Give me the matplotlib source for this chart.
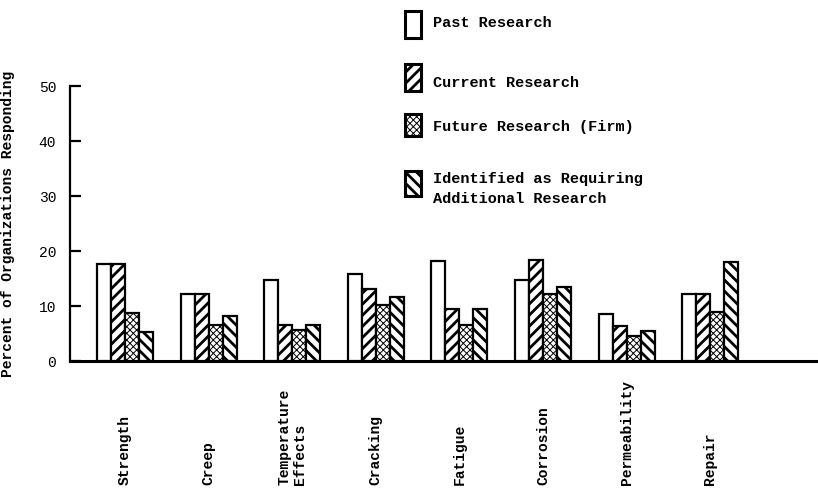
import matplotlib
matplotlib.use("Agg")
import matplotlib.pyplot as plt
import numpy as np
from matplotlib.patches import Rectangle
from matplotlib.transforms import blended_transform_factory

categories = ["Strength", "Creep", "Temperature\nEffects", "Cracking", "Fatigue",
              "Corrosion", "Permeability", "Repair"]
past = [17.7, 12.2, 14.7, 15.8, 18.1, 14.8, 8.6, 12.2]
current = [17.7, 12.2, 6.6, 13.1, 9.5, 18.3, 6.3, 12.2]
future = [8.7, 6.6, 5.7, 10.1, 6.6, 12.1, 4.6, 8.9]
additional = [5.3, 8.2, 6.6, 11.7, 9.5, 13.4, 5.4, 18.0]
series_names = ["Past Research", "Current Research", "Future Research (Firm)",
                "Identified as Requiring\nAdditional Research"]
yticks = [0, 10, 20, 30, 40, 50]
ylabel = "Percent of Organizations Responding"

W, H = 818, 489
plt.rcParams['hatch.linewidth'] = 1.8
mono = "Liberation Mono"

fig = plt.figure(figsize=(W / 100, H / 100), dpi=100)
ax = fig.add_axes([70 / W, 1 - 362 / H, (W - 70) / W, (362 - 87) / H])

series = [past, current, future, additional]
hatches = [None, "///", "xxxxx", "\\\\\\"]
hlw = [1.0, 2.0, 0.7, 2.0]
bw = 0.1675
x = np.arange(len(categories))
for k, vals in enumerate(series):
    offs = (k - 1.5) * bw
    bars = ax.bar(x + offs, vals, width=bw, color="white", edgecolor="black",
                  linewidth=1.6, hatch=hatches[k], zorder=3)
    for b in bars:
        if hasattr(b, "set_hatch_linewidth"):
            b.set_hatch_linewidth(hlw[k])

ax.set_xlim(-0.658, 8.29)
ax.set_ylim(0, 50)
for s in ["top", "right"]:
    ax.spines[s].set_visible(False)
ax.spines["left"].set_linewidth(1.6)
ax.spines["bottom"].set_linewidth(2.2)
ax.set_xticks([])
ax.set_yticks(yticks)
ax.tick_params(axis="y", direction="in", length=8, width=1.6, pad=10)
for lab in ax.get_yticklabels():
    lab.set_fontfamily(mono)
    lab.set_fontsize(10.5)

trans = blended_transform_factory(ax.transData, fig.transFigure)
for i, c in enumerate(categories):
    ax.text(i, 1 - 485 / H, c, transform=trans, rotation=90, ha="center",
            va="bottom", multialignment="left", family=mono, fontsize=10.5,
            fontweight="bold", linespacing=1.15)

fig.text(8 / W, 1 - 223.5 / H, ylabel, rotation=90, ha="center", va="center",
         family=mono, fontsize=10.5, fontweight="bold")

# legend
boxes = [(12, 39), (65, 92), (115, 137), (172, 197)]
text_y = [23, 83, 127, 189]
for k in range(4):
    y0, y1 = boxes[k]
    r = Rectangle((405 / W, 1 - y1 / H), 16 / W, (y1 - y0) / H,
                  transform=fig.transFigure, facecolor="white",
                  edgecolor="black", linewidth=2.2, hatch=hatches[k])
    if hasattr(r, "set_hatch_linewidth"):
        r.set_hatch_linewidth(hlw[k])
    fig.add_artist(r)
    fig.text(433 / W, 1 - text_y[k] / H, series_names[k], ha="left",
             va="center", family=mono, fontsize=11, linespacing=1.55,
             fontweight="bold")

fig.savefig("out.png", dpi=100)
